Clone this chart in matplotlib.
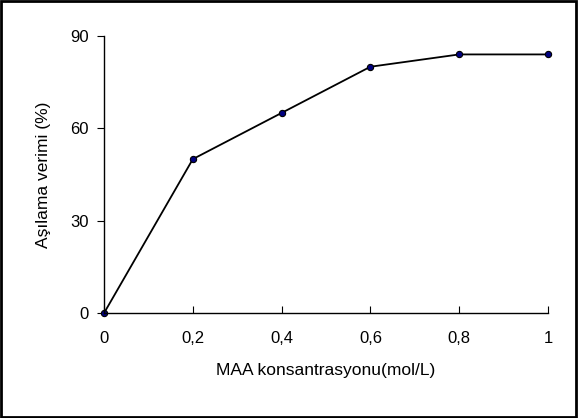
import matplotlib
matplotlib.use("Agg")
import matplotlib.pyplot as plt
from matplotlib.patches import Rectangle

plt.rcParams['font.family'] = ['Liberation Sans', 'DejaVu Sans']

# data
konsantrasyon = [0, 0.2, 0.4, 0.6, 0.8, 1]
verim = [0, 50, 65, 80, 84, 84]
x_ticks = [0, 0.2, 0.4, 0.6, 0.8, 1]
x_labels = ['0', '0,2', '0,4', '0,6', '0,8', '1']
y_ticks = [0, 30, 60, 90]

fig = plt.figure(figsize=(5.78, 4.18), dpi=100)
ax = fig.add_axes([0.18, 0.251, 0.768, 0.663])

ax.plot(konsantrasyon, verim, color='black', linewidth=1.3,
        marker='o', markersize=4.5, markerfacecolor='#000080',
        markeredgecolor='black', markeredgewidth=0.8, clip_on=False)

ax.set_xlim(0, 1)
ax.set_ylim(0, 90)
ax.set_xticks(x_ticks)
ax.set_xticklabels(x_labels)
ax.set_yticks(y_ticks)

for s in ['top', 'right']:
    ax.spines[s].set_visible(False)
for s in ['left', 'bottom']:
    ax.spines[s].set_linewidth(1.0)

ax.tick_params(axis='x', direction='in', length=5, pad=13, labelsize=12)
ax.tick_params(axis='y', direction='out', length=5, pad=6, labelsize=12)

ax.set_xlabel('MAA konsantrasyonu(mol/L)', fontsize=12.5, labelpad=12)
ax.set_ylabel('Aşılama verimi (%)', fontsize=12.5, labelpad=14)

# outer frame
fig.patches.append(Rectangle((0.002, 0.003), 0.995, 0.994, transform=fig.transFigure,
                             fill=False, edgecolor='black', linewidth=2))

fig.savefig('out.png', dpi=100)
